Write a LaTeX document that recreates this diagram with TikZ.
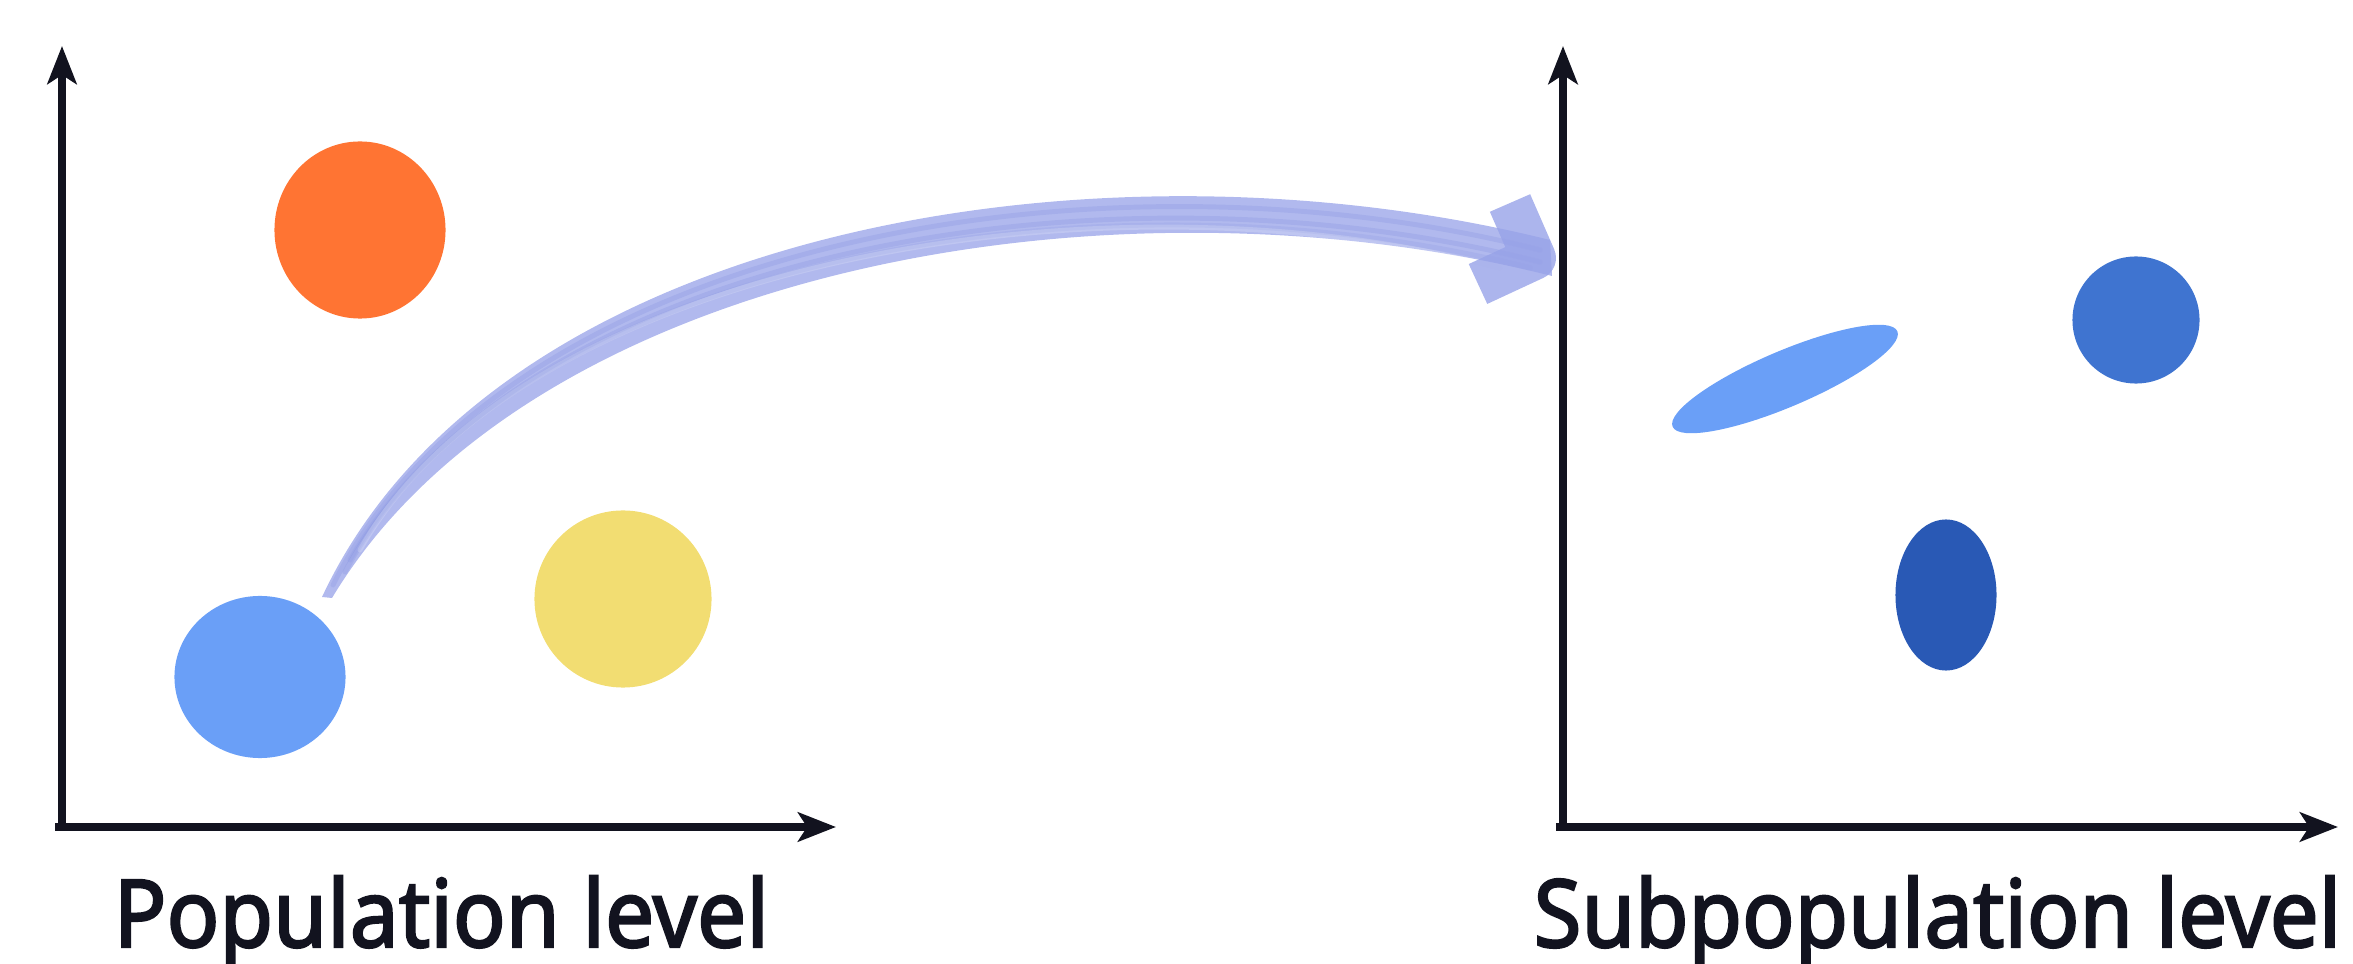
\documentclass[tikz,border=0pt]{standalone}
\usepackage{graphicx}
\usepackage{fontspec}
\setmainfont{Noto Sans}
\newfontfamily\lblfont{Noto Sans}[FakeBold=2.4]
\usetikzlibrary{arrows.meta,shapes.geometric}
\definecolor{ink}{HTML}{12131F}
\definecolor{orng}{HTML}{FF7433}
\definecolor{yllw}{HTML}{F2DD72}
\definecolor{lblue}{HTML}{6A9FF7}
\definecolor{mblue}{HTML}{3F74D0}
\definecolor{dblue}{HTML}{2959B5}
\definecolor{brush}{HTML}{97A2E8}
\definecolor{brushdk}{HTML}{7382DC}
\tikzset{
  axis/.style={draw=ink, line width=2.3pt, -{Stealth[length=10.8pt,width=8.3pt,inset=2.6pt]}},
  blob/.style={ellipse, inner sep=0pt, draw=none},
  lbl/.style={anchor=base west, inner sep=0pt, text=ink, font=\lblfont\fontsize{26.7pt}{30pt}\selectfont},
  brushfill/.style={fill=brush, fill opacity=0.75},
  streak/.style={draw=brushdk, draw opacity=0.2, line width=1.4pt, line cap=round},
  brushhead/.style={draw=brush, draw opacity=0.8, line width=12.5pt, line join=round},
}
\begin{document}
\begin{tikzpicture}[x=0.01cm,y=-0.01cm]
\useasboundingbox (0,0) rectangle (2353,964);
% axes
\coordinate (ly0) at (62,831);
\coordinate (ly1) at (62,46);
\coordinate (lx0) at (55,827);
\coordinate (lx1) at (836,827);
\coordinate (ry0) at (1563,831);
\coordinate (ry1) at (1563,46);
\coordinate (rx0) at (1556,827);
\coordinate (rx1) at (2338,827);
\draw[axis] (ly0) -- (ly1);
\draw[axis] (lx0) -- (lx1);
\draw[axis] (ry0) -- (ry1);
\draw[axis] (rx0) -- (rx1);
% blobs
\node[blob, fill=orng, minimum width=1.71cm, minimum height=1.77cm] (orange) at (360,230) {};
\node[blob, fill=yllw, minimum width=1.77cm, minimum height=1.77cm] (yellow) at (623,599) {};
\node[blob, fill=lblue, minimum width=1.71cm, minimum height=1.62cm] (bluepop) at (260,677) {};
\node[blob, fill=lblue, minimum width=2.44cm, minimum height=0.56cm, rotate=23] (streakblob) at (1785,379) {};
\node[blob, fill=mblue, minimum size=1.27cm] (subA) at (2136,320) {};
\node[blob, fill=dblue, minimum width=1.01cm, minimum height=1.51cm] (subB) at (1946,595) {};
% brush arrow
\coordinate (bs) at (326,597);
\coordinate (bt) at (1550,258);
\fill[brushfill] (322,597) .. controls (495,228) and (1097,127) .. (1550,240)
   -- (1552,276) .. controls (1103,163) and (528,272) .. (332,598) -- cycle;
\draw[streak] (333,585) .. controls (505,240) and (1100,138) .. (1540,250);
\draw[streak] (345,572) .. controls (515,252) and (1100,150) .. (1540,262);
\draw[streak, draw opacity=0.14] (350,560) .. controls (520,260) and (1100,158) .. (1530,268);
\draw[streak, draw=white, draw opacity=0.18] (360,550) .. controls (520,264) and (1100,162) .. (1500,268);
\draw[brushhead] (1510,203) -- (1534,258) -- (1478,284);
% labels
\node[lbl] (poplabel) at (113,947) {\resizebox{186.3pt}{\height}{Population level}};
\node[lbl] (sublabel) at (1533,947) {\resizebox{229.6pt}{\height}{Subpopulation level}};
\end{tikzpicture}
\end{document}
